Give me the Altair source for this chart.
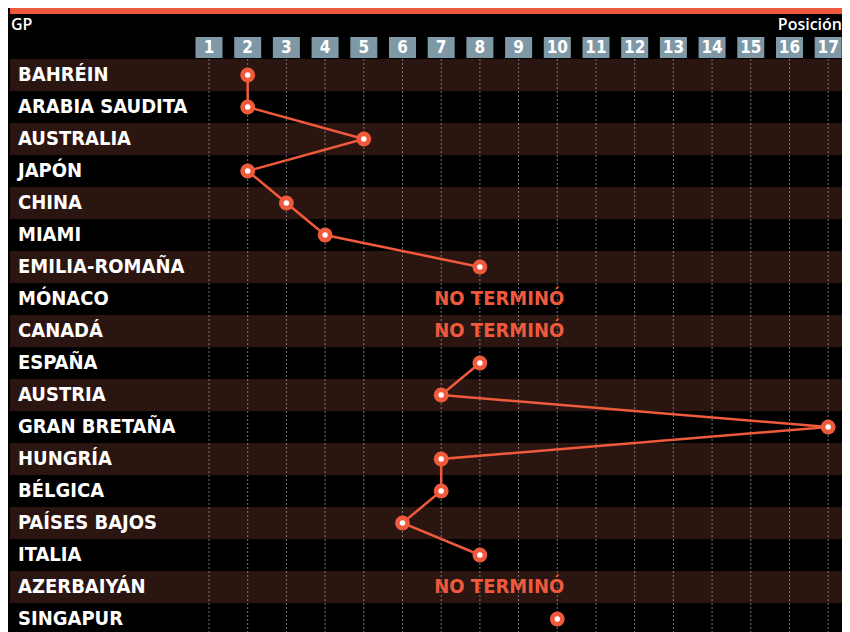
import altair as alt
import pandas as pd

# ---- data ----
gps = ["BAHRÉIN", "ARABIA SAUDITA", "AUSTRALIA", "JAPÓN", "CHINA", "MIAMI",
       "EMILIA-ROMAÑA", "MÓNACO", "CANADÁ", "ESPAÑA", "AUSTRIA", "GRAN BRETAÑA",
       "HUNGRÍA", "BÉLGICA", "PAÍSES BAJOS", "ITALIA", "AZERBAIYÁN", "SINGAPUR"]
finish = [2, 2, 5, 2, 3, 4, 8, None, None, 8, 7, 17, 7, 7, 6, 8, None, 10]
columns = list(range(1, 18))
dnf_text = "NO TERMINÓ"

# ---- build tables ----
groups = []
g = 0
for p in finish:
    if p is None:
        g += 1
    groups.append(g)
rows = pd.DataFrame({"gp": gps, "pos": finish, "idx": list(range(len(gps))), "grp": groups})
rows["pos"] = rows["pos"].astype("float")
cols = pd.DataFrame({"c": columns})

# ---- layout ----
W, H = 832, 624
ORANGE = "#ef5a3c"
BAND = "#2a1510"
FONT = "DejaVu Sans Condensed"

x_scale = alt.Scale(domain=[-4.142, 17.357], nice=False, zero=False)
y_scale = alt.Scale(domain=[-2.09375, 17.40625], nice=False, zero=False, reverse=True)

X = lambda f: alt.X(f, type="quantitative", scale=x_scale, axis=None)
Y = lambda f: alt.Y(f, type="quantitative", scale=y_scale, axis=None)

base_rows = alt.Chart(rows)

topbar = alt.Chart(pd.DataFrame({"a": [0]})).mark_rect(color=ORANGE).encode(
    x=alt.value(0), x2=alt.value(W), y=alt.value(0), y2=alt.value(6))

bands = base_rows.transform_filter("datum.idx % 2 == 0").transform_calculate(
    y0="datum.idx - 0.5", y1="datum.idx + 0.5"
).mark_rect(color=BAND).encode(
    x=alt.value(0), x2=alt.value(W), y=Y("y0"), y2=alt.Y2("y1"))

grid = alt.Chart(cols).mark_rule(color="#777777", strokeDash=[2, 2], strokeWidth=1).encode(
    x=X("c"), y=alt.value(51), y2=alt.value(H))

boxes = alt.Chart(cols).transform_calculate(
    l="datum.c - 0.349", r="datum.c + 0.349"
).mark_rect(color="#7f98a6").encode(
    x=X("l"), x2=alt.X2("r"), y=alt.value(29), y2=alt.value(50))

box_nums = alt.Chart(cols).mark_text(
    color="white", font=FONT, fontWeight="bold", fontSize=17, baseline="middle"
).encode(x=X("c"), y=alt.value(40), text=alt.Text("c:N"))

labels = base_rows.mark_text(
    align="left", baseline="middle", color="white", font=FONT, fontWeight="bold", fontSize=20
).encode(x=alt.value(8), y=Y("idx"), text="gp:N")

finished = base_rows.transform_filter("isValid(datum.pos) && isFinite(datum.pos)")

line = finished.mark_line(color=ORANGE, strokeWidth=2.5).encode(
    x=X("pos"), y=Y("idx"), detail="grp:N", order=alt.Order("idx:Q"))

dots = finished.mark_circle(color=ORANGE, size=220, opacity=1).encode(x=X("pos"), y=Y("idx"))
centers = finished.mark_circle(color="white", size=30, opacity=1).encode(x=X("pos"), y=Y("idx"))

dnf = base_rows.transform_filter("!isValid(datum.pos) || !isFinite(datum.pos)").transform_calculate(
    lx="8.5", t="'" + dnf_text + "'"
).mark_text(
    color=ORANGE, font=FONT, fontWeight="bold", fontSize=20, baseline="middle"
).encode(x=X("lx"), y=Y("idx"), text="t:N")

gp_title = alt.Chart(pd.DataFrame({"t": ["GP"]})).mark_text(
    align="left", baseline="middle", color="white", font="Open Sans", fontWeight=600, fontSize=16
).encode(x=alt.value(1), y=alt.value(17), text="t:N")

pos_title = alt.Chart(pd.DataFrame({"t": ["Posición"]})).mark_text(
    align="right", baseline="middle", color="white", font="Open Sans", fontWeight=600, fontSize=16
).encode(x=alt.value(W), y=alt.value(17), text="t:N")

chart = alt.layer(
    topbar, bands, grid, boxes, box_nums, labels, line, dots, centers, dnf, gp_title, pos_title
).properties(
    width=W, height=H,
    autosize=alt.AutoSizeParams(type="none"),
    padding={"left": 2, "top": 0, "right": 0, "bottom": 0},
    background="#000000",
).configure_view(stroke=None)

chart.save("out.html", embed_options={"renderer": "svg", "actions": False})
